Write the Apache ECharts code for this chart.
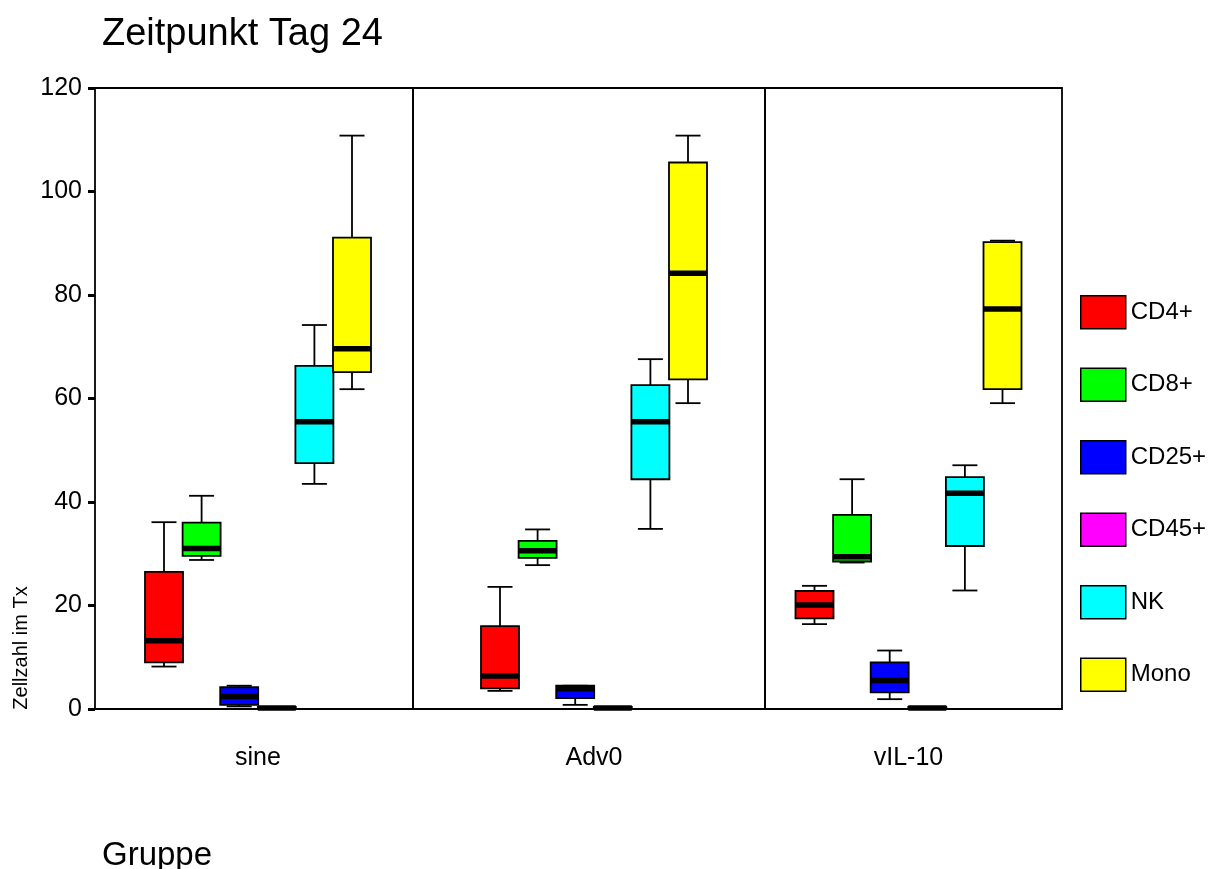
<!DOCTYPE html>
<html>
<head>
<meta charset="utf-8">
<script src="https://cdn.jsdelivr.net/npm/echarts@6/dist/echarts.min.js"></script>
<style>html,body{margin:0;padding:0;background:#fff;}#c{width:1212px;height:869px;}</style>
</head>
<body>
<div id="c"></div>
<script>
// ---- data (min, Q1, median, Q3, max) per group ----
const groups = ['sine', 'Adv0', 'vIL-10'];
const cellTypes = ['CD4+', 'CD8+', 'CD25+', 'CD45+', 'NK', 'Mono'];
const colors = ['#ff0000', '#00ff00', '#0000ff', '#ff00ff', '#00ffff', '#ffff00'];
const yTicks = [0, 20, 40, 60, 80, 100, 120];

const cd4  = [[8.2, 9.0, 13.2, 26.5, 36.1], [3.5, 4.0, 6.4, 16.0, 23.6], [16.4, 17.5, 20.1, 22.8, 23.8]];
const cd8  = [[28.8, 29.6, 31.0, 36.0, 41.2], [27.8, 29.2, 30.6, 32.5, 34.7], [28.3, 28.5, 29.4, 37.5, 44.4]];
const cd25 = [[0.5, 0.8, 2.4, 4.2, 4.5], [0.8, 2.1, 3.9, 4.5, 4.5], [1.9, 3.2, 5.5, 9.0, 11.3]];
const cd45 = [[0, 0, 0.2, 0.4, 0.4], [0, 0, 0.2, 0.4, 0.4], [0, 0, 0.2, 0.4, 0.4]];
const nk   = [[43.5, 47.5, 55.5, 66.3, 74.2], [34.8, 44.4, 55.5, 62.6, 67.6], [22.9, 31.5, 41.7, 44.8, 47.1]];
const mono = [[61.8, 65.1, 69.6, 91.1, 110.8], [59.1, 63.7, 84.2, 105.6, 110.8], [59.1, 61.8, 77.3, 90.2, 90.5]];
const stats = [cd4, cd8, cd25, cd45, nk, mono];

// ---- layout / style ----
const FONT = "'Liberation Sans', Arial, sans-serif";
const panels = [
  {left: 95, width: 318, shift: 4},
  {left: 413, width: 352, shift: 5},
  {left: 765, width: 297, shift: -5}
];
const GRID_TOP = 88, GRID_BOTTOM = 160;
const BOX_STEP = 37.6, BOX_W = 38, CAP_W = 25;

function makeRender(j, shift) {
  return function (params, api) {
    const cx = api.coord([api.value(0), 0])[0] + shift + (j - 2.5) * BOX_STEP;
    const y = k => api.coord([api.value(0), api.value(k)])[1];
    const yMin = y(1), yQ1 = y(2), yMed = y(3), yQ3 = y(4), yMax = y(5);
    const h = BOX_W / 2, c = CAP_W / 2;
    const ls = {stroke: '#000', lineWidth: 1.8};
    return {
      type: 'group',
      children: [
        {type: 'line', shape: {x1: cx, y1: yMax, x2: cx, y2: yQ3}, style: ls},
        {type: 'line', shape: {x1: cx, y1: yQ1, x2: cx, y2: yMin}, style: ls},
        {type: 'line', shape: {x1: cx - c, y1: yMax, x2: cx + c, y2: yMax}, style: ls},
        {type: 'line', shape: {x1: cx - c, y1: yMin, x2: cx + c, y2: yMin}, style: ls},
        {type: 'rect', shape: {x: cx - h, y: yQ3, width: BOX_W, height: Math.max(yQ1 - yQ3, 1)},
          style: {fill: api.visual('color'), stroke: '#000', lineWidth: 1.8}},
        {type: 'line', shape: {x1: cx - h, y1: yMed, x2: cx + h, y2: yMed},
          style: {stroke: '#000', lineWidth: 5.5}}
      ]
    };
  };
}

const grid = [], xAxis = [], yAxis = [], series = [];
panels.forEach((p, i) => {
  grid.push({left: p.left, width: p.width, top: GRID_TOP, bottom: GRID_BOTTOM,
    show: true, borderColor: '#000', borderWidth: 1.8, backgroundColor: 'transparent'});
  const pad = p.shift >= 0 ? [0, 0, 0, 2 * p.shift] : [0, -2 * p.shift, 0, 0];
  xAxis.push({type: 'category', gridIndex: i, data: [groups[i]],
    axisLine: {show: false}, axisTick: {show: false}, splitLine: {show: false},
    axisLabel: {margin: 37, color: '#000', fontSize: 25, fontFamily: FONT, padding: pad}});
  yAxis.push({type: 'value', gridIndex: i, min: yTicks[0], max: yTicks[yTicks.length - 1], interval: 20,
    show: i === 0,
    axisLine: {show: false},
    axisTick: {show: true, length: 7, lineStyle: {color: '#000', width: 3}},
    splitLine: {show: false},
    axisLabel: {margin: 13, color: '#000', fontSize: 25, fontFamily: FONT}});
  cellTypes.forEach((name, j) => {
    series.push({
      type: 'custom', name: name, xAxisIndex: i, yAxisIndex: i,
      itemStyle: {color: colors[j]},
      renderItem: makeRender(j, p.shift),
      encode: {x: 0, y: [1, 2, 3, 4, 5]},
      data: [[0].concat(stats[j][i])],
      clip: false, silent: true
    });
  });
});

const chart = echarts.init(document.getElementById('c'), null, {renderer: 'canvas'});
chart.setOption({
  animation: false,
  backgroundColor: '#fff',
  title: [
    {text: 'Zeitpunkt Tag 24', left: 97, top: 11,
      textStyle: {fontSize: 38, fontWeight: 'normal', color: '#000', fontFamily: FONT}},
    {text: 'Gruppe', left: 97, top: 834,
      textStyle: {fontSize: 33, fontWeight: 'normal', color: '#000', fontFamily: FONT}}
  ],
  legend: {
    orient: 'vertical', left: 1080, top: 295, padding: 0,
    data: cellTypes, icon: 'rect', itemWidth: 45, itemHeight: 33, itemGap: 38,
    itemStyle: {borderColor: '#000', borderWidth: 1.5},
    textStyle: {fontSize: 24, color: '#000', fontFamily: FONT},
    selectedMode: false
  },
  graphic: [{
    type: 'text', x: 21, y: 648, rotation: Math.PI / 2,
    style: {text: 'Zellzahl im Tx', fontSize: 20, fill: '#000', fontFamily: FONT,
      align: 'center', verticalAlign: 'middle'}
  }],
  grid: grid, xAxis: xAxis, yAxis: yAxis, series: series
});
</script>
</body>
</html>
